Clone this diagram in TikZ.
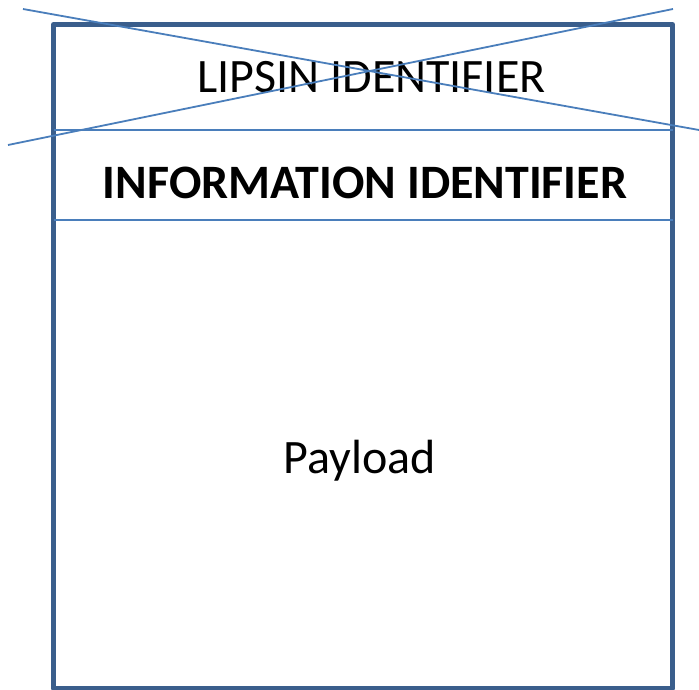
\documentclass[tikz,border=0pt]{standalone}
\usepackage{fontspec}
\setmainfont{Carlito}
\usetikzlibrary{positioning}
\definecolor{framblue}{RGB}{58,94,140}
\definecolor{lineblue}{RGB}{74,126,187}

\begin{document}
\begin{tikzpicture}[x=1pt,y=-1pt,
  frame/.style={draw=framblue,line width=5pt,line join=round},
  divider/.style={draw=lineblue,line width=1.8pt},
  crossout/.style={draw=lineblue,line width=1.8pt},
  label/.style={font=\fontsize{48}{56}\selectfont,anchor=base,inner sep=0pt}
]
  \useasboundingbox (0,0) rectangle (699,690);

  % Packet frame
  \coordinate (tl) at (53.5,24.5);
  \coordinate (br) at (672.5,688);
  \draw[frame] (tl) rectangle (br);

  % Header fields
  \coordinate (hdrA) at (53.5,130);
  \coordinate (hdrB) at (53.5,220);
  \draw[divider] (hdrA) -- (hdrA -| br);
  \draw[divider] (hdrB) -- (hdrB -| br);

  \node[label] (lipsin)  at (371.5,93)  {LIPSIN IDENTIFIER};
  \node[label,font=\fontsize{48}{56}\selectfont\bfseries] (infoid) at (365,198) {INFORMATION IDENTIFIER};
  \node[label] (payload) at (360,473) {Payload};

  % Crossed-out LIPSIN field
  \coordinate (xa) at (23,9);
  \coordinate (xb) at (699,130);
  \coordinate (xc) at (8,145);
  \coordinate (xd) at (673,9);
  \draw[crossout] (xa) -- (xb);
  \draw[crossout] (xc) -- (xd);
\end{tikzpicture}
\end{document}
